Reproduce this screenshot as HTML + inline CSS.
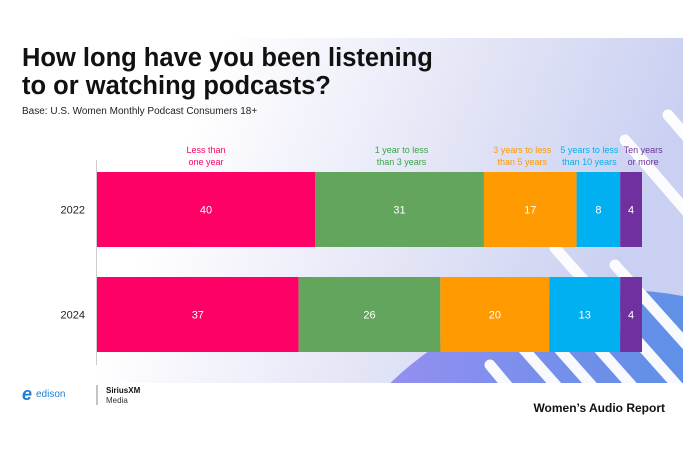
<!DOCTYPE html>
<html style="overflow:hidden;height:450px"><head><meta charset="utf-8"><style>
html,body{margin:0;width:700px;height:450px;overflow:hidden}
body{background:#fff;font-family:"Liberation Sans",Arial,sans-serif;position:relative}
svg{position:absolute;left:0;top:0;display:block}
</style></head><body>
<svg width="700" height="450">
<defs>
<linearGradient id="bg" x1="0" y1="0" x2="1" y2="0.2">
<stop offset="0.3" stop-color="#ffffff"/><stop offset="0.7" stop-color="#e2e4f6"/><stop offset="1" stop-color="#c9d0f1"/></linearGradient>
<linearGradient id="circ" x1="0" y1="0" x2="1" y2="0">
<stop offset="0" stop-color="#a68ff3"/><stop offset="0.5" stop-color="#6a8fe8"/><stop offset="1" stop-color="#2f96e3"/></linearGradient>
<clipPath id="pc"><rect x="15" y="38" width="668" height="345"/></clipPath>
</defs>
<rect x="15" y="38" width="668" height="345" fill="url(#bg)"/>
<g clip-path="url(#pc)">
<circle cx="620" cy="620" r="330" fill="url(#circ)"/>
<g stroke="#fff" stroke-width="11" stroke-linecap="round" fill="none" opacity="0.95">
<line x1="668" y1="115" x2="720" y2="175"/>
<line x1="625" y1="140" x2="720" y2="250"/>
<line x1="555" y1="248" x2="690" y2="400"/>
<line x1="615" y1="265" x2="700" y2="360"/>
<line x1="520" y1="345" x2="560" y2="390"/>
<line x1="560" y1="350" x2="600" y2="395"/>
<line x1="600" y1="350" x2="640" y2="395"/>
<line x1="490" y1="365" x2="515" y2="395"/>
</g>
</g>
<text x="22" y="66" font-size="25.5" font-weight="bold" fill="#111">How long have you been listening</text>
<text x="22" y="94" font-size="25.5" font-weight="bold" fill="#111">to or watching podcasts?</text>
<text x="22" y="114" font-size="10" fill="#222">Base: U.S. Women Monthly Podcast Consumers 18+</text>
<line x1="96.5" y1="160" x2="96.5" y2="365" stroke="#ccc"/>
<g id="bars"></g>
<text x="22" y="400" font-size="18" font-weight="bold" font-style="italic" fill="#1a7fd4">e</text>
<text x="36" y="397" font-size="10" fill="#1a7fd4">edison</text>
<line x1="97" y1="385" x2="97" y2="405" stroke="#888"/>
<text x="106" y="393" font-size="8" font-weight="bold" fill="#111">SiriusXM</text>
<text x="106" y="403" font-size="8" fill="#333">Media</text>
<text x="665" y="412" font-size="12" font-weight="bold" fill="#111" text-anchor="end">Women’s Audio Report</text>
</svg>
<script>
const years=["2022","2024"];
const categories=[["Less than","one year"],["1 year to less","than 3 years"],["3 years to less","than 5 years"],["5 years to less","than 10 years"],["Ten years","or more"]];
const values2022=[40,31,17,8,4];
const values2024=[37,26,20,13,4];
const colors=["#ff0066","#63a55c","#ff9a00","#00b0f0","#7030a0"];
const labelColors=["#ff0066","#3aa548","#ff9a00","#00b0f0","#7030a0"];
const labelShift=[0,2,-8,-9,12];
const series=[values2022,values2024];
const x0=97,x1=642,barH=75,ys=[172,277];
const xs=v=>v*(x1-x0)/100;
const NS="http://www.w3.org/2000/svg";
const g=document.getElementById('bars');
function mk(t,a){const e=document.createElementNS(NS,t);for(const k in a)e.setAttribute(k,a[k]);g.appendChild(e);return e;}
series.forEach((vals,si)=>{
 let cx=x0;
 const yl=mk('text',{x:x0-12,y:ys[si]+barH/2+4,'font-size':11,'text-anchor':'end',fill:'#222'});
 yl.textContent=years[si];
 
 
 vals.forEach((v,i)=>{
  const w=xs(v);
  const r=mk('rect',{x:cx,y:ys[si],width:w,height:barH,fill:colors[i]});
  
  
  const t=mk('text',{x:cx+w/2,y:ys[si]+barH/2+4,'font-size':11,'text-anchor':'middle',fill:'#fff'});
  t.textContent=v;
  
  
  if(si===0){
   categories[i].forEach((ln,li)=>{
    const c=mk('text',{x:cx+w/2+labelShift[i],y:153+li*12,'font-size':9,'text-anchor':'middle',fill:labelColors[i]});
    c.textContent=ln;
    
    
   });
  }
  cx+=w;
 });
});
</script>
</body></html>
